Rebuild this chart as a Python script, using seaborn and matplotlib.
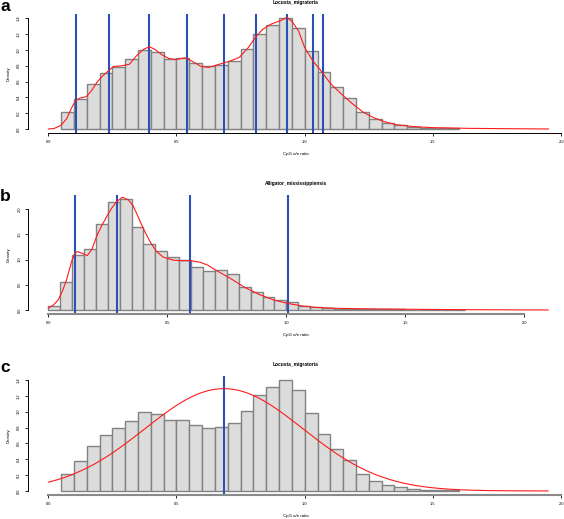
import numpy as np
import pandas as pd
import matplotlib
matplotlib.use("Agg")
import matplotlib.pyplot as plt
import seaborn as sns

# ---------------- data ----------------
bin_width = 0.05

locusta_title = "Locusta_migratoria"
locusta_bin_start = 0.05
locusta_density = [0.22, 0.375, 0.565, 0.705, 0.79, 0.88, 0.995, 0.97, 0.89, 0.895,
                   0.835, 0.80, 0.81, 0.855, 1.015, 1.205, 1.315, 1.40, 1.275, 0.985,
                   0.715, 0.525, 0.395, 0.22, 0.13, 0.076, 0.046, 0.027, 0.017, 0.010,
                   0.006]

alligator_title = "Alligator_mississippiensis"
alligator_bin_start = 0.0
alligator_density = [0.08, 0.55, 1.10, 1.22, 1.70, 2.14, 2.20, 1.64, 1.32, 1.17,
                     1.05, 0.99, 0.86, 0.77, 0.79, 0.71, 0.45, 0.35, 0.25, 0.19,
                     0.15, 0.08, 0.06, 0.035, 0.025, 0.02, 0.02, 0.015, 0.012, 0.010,
                     0.008, 0.006, 0.005, 0.004, 0.003]

# kernel density curves (red), read point by point
locusta_kde_x = [0.0, 0.022, 0.05, 0.072, 0.093, 0.107, 0.123, 0.149, 0.17, 0.19,
                 0.212, 0.233, 0.254, 0.289, 0.317, 0.345, 0.373, 0.394, 0.415, 0.443,
                 0.471, 0.499, 0.534, 0.562, 0.597, 0.626, 0.668, 0.71, 0.745, 0.78,
                 0.808, 0.836, 0.871, 0.906, 0.93, 0.948, 0.976, 1.0, 1.032, 1.06,
                 1.102, 1.144, 1.186, 1.229, 1.271, 1.313, 1.355, 1.425, 1.495, 1.635,
                 1.776, 1.951]
locusta_kde_y = [0.0, 0.005, 0.046, 0.13, 0.28, 0.36, 0.39, 0.41, 0.49, 0.59,
                 0.67, 0.73, 0.79, 0.80, 0.82, 0.93, 1.01, 1.04, 1.01, 0.94,
                 0.89, 0.88, 0.90, 0.855, 0.79, 0.78, 0.82, 0.86, 0.905, 1.03,
                 1.16, 1.26, 1.33, 1.37, 1.41, 1.37, 1.24, 1.03, 0.86, 0.75,
                 0.57, 0.44, 0.32, 0.21, 0.14, 0.09, 0.055, 0.03, 0.017, 0.008,
                 0.004, 0.0]

alligator_kde_x = [0.0, 0.02, 0.042, 0.06, 0.077, 0.098, 0.112, 0.123, 0.14, 0.164,
                   0.183, 0.203, 0.225, 0.245, 0.266, 0.287, 0.311, 0.336, 0.355, 0.371,
                   0.399, 0.427, 0.455, 0.483, 0.525, 0.56, 0.595, 0.637, 0.67, 0.704,
                   0.764, 0.825, 0.885, 0.946, 1.006, 1.066, 1.127, 1.233, 1.38, 1.61,
                   1.85, 2.1]
alligator_kde_y = [0.04, 0.09, 0.2, 0.38, 0.6, 0.96, 1.13, 1.16, 1.13, 1.08,
                   1.2, 1.46, 1.68, 1.85, 2.02, 2.15, 2.24, 2.19, 2.08, 1.92,
                   1.62, 1.36, 1.16, 1.05, 0.99, 0.98, 0.98, 0.95, 0.89, 0.79,
                   0.63, 0.45, 0.31, 0.20, 0.13, 0.08, 0.05, 0.03, 0.02, 0.01,
                   0.004, 0.0]

# vertical cut-off lines (blue)
locusta_cutoffs = [0.107, 0.236, 0.391, 0.540, 0.684, 0.809, 0.930, 1.032, 1.070]
alligator_cutoffs = [0.112, 0.290, 0.594, 1.006]
normal_cutoff = [0.685]

# fitted normal distribution (panel c)
normal_mean = 0.685
normal_sd = 0.309
normal_range = (0.0, 1.95)

x_ticks = [0.0, 0.5, 1.0, 1.5, 2.0]
y_ticks_locusta = [0.0, 0.2, 0.4, 0.6, 0.8, 1.0, 1.2, 1.4]
y_ticks_alligator = [0.0, 0.5, 1.0, 1.5, 2.0]
x_label = "CpG o/e ratio"
y_label = "Density"

# ---------------- style ----------------
sns.set_style("white")
plt.rcParams["font.family"] = ["Liberation Sans", "DejaVu Sans"]
plt.rcParams["text.color"] = "black"

W, H = 564, 519
fig = plt.figure(figsize=(W / 100, H / 100), dpi=100)

BAR_FACE = "#dcdcdc"
BAR_EDGE = "#828282"
RED = "#ff1a1a"
BLUE = "#2a52b4"


def make_axes(l, t, r, b):
    return fig.add_axes([l / W, 1 - b / H, (r - l) / W, (b - t) / H])


def draw_panel(ax, title, bin_start, heights, xlim, ylim, yticks,
               curve_x, curve_y, cutoffs, spine_color, spine_lw, top_px):
    n = len(heights)
    edges = [round(bin_start + bin_width * i, 4) for i in range(n + 1)]
    centers = [(edges[i] + edges[i + 1]) / 2 for i in range(n)]
    df = pd.DataFrame({"x": centers, "w": heights})
    sns.histplot(data=df, x="x", weights="w", bins=edges, stat="count",
                 color=BAR_FACE, edgecolor=BAR_EDGE, linewidth=1.0, alpha=1.0,
                 ax=ax, zorder=1)
    for c in cutoffs:
        ax.axvline(c, color=BLUE, lw=1.5, zorder=2)
    sns.lineplot(x=list(curve_x), y=list(curve_y), color=RED, lw=0.8, ax=ax,
                 zorder=3, sort=False, estimator=None)
    ax.set_xlim(*xlim)
    ax.set_ylim(*ylim)
    ax.set_xlabel("")
    ax.set_ylabel("")
    ax.set_xticks(x_ticks)
    ax.set_xticklabels([f"{v:.1f}" for v in x_ticks])
    ax.set_yticks(yticks)
    ax.set_yticklabels([f"{v:.1f}" for v in yticks], rotation=90, va="center")
    ax.tick_params(axis="both", direction="out", length=2.5, width=0.6,
                   labelsize=2.9, pad=2.2, color="black", labelcolor="black",
                   left=True, bottom=True)
    for s in ["top", "right"]:
        ax.spines[s].set_visible(False)
    ax.spines["left"].set_bounds(yticks[0], yticks[-1])
    ax.spines["left"].set_color("black")
    ax.spines["left"].set_linewidth(0.7)
    ax.spines["bottom"].set_bounds(x_ticks[0], x_ticks[-1])
    ax.spines["bottom"].set_color(spine_color)
    ax.spines["bottom"].set_linewidth(spine_lw)
    ax.grid(False)
    hpx = ax.get_position().height * H
    ax.text(0.5, 1 + 11.0 / hpx, title, transform=ax.transAxes, ha="center",
            va="center", fontsize=3.5, fontweight="bold", color="black")
    ax.text(0.5, -20.6 / hpx, x_label, transform=ax.transAxes, ha="center",
            va="center", fontsize=3.2, color="black")
    fig.text(8.3 / W, 1 - (top_px + hpx / 2) / H, y_label, rotation=90,
             ha="center", va="center", fontsize=3.2, color="black")


# panel a
ax_a = make_axes(27.7, 13.9, 564, 133.4)
draw_panel(ax_a, locusta_title, locusta_bin_start, locusta_density,
           (-0.080, 2.011), (-0.056, 1.456), y_ticks_locusta,
           locusta_kde_x, locusta_kde_y, locusta_cutoffs, "black", 0.7, 13.9)

# panel b
ax_b = make_axes(28.0, 194.8, 564, 314.4)
draw_panel(ax_b, alligator_title, alligator_bin_start, alligator_density,
           (-0.085, 2.166), (-0.088, 2.288), y_ticks_alligator,
           alligator_kde_x, alligator_kde_y, alligator_cutoffs, "#8a8a8a", 1.5, 194.8)

# panel c
nx = np.linspace(normal_range[0], normal_range[1], 300)
ny = np.exp(-0.5 * ((nx - normal_mean) / normal_sd) ** 2) / (normal_sd * np.sqrt(2 * np.pi))
ax_c = make_axes(27.7, 375.6, 564, 495.4)
draw_panel(ax_c, locusta_title, locusta_bin_start, locusta_density,
           (-0.080, 2.011), (-0.056, 1.456), y_ticks_locusta,
           nx, ny, normal_cutoff, "#8a8a8a", 1.5, 375.6)

# panel letters
for letter, base in [("a", 11.0), ("b", 200.7), ("c", 371.7)]:
    fig.text(0.3 / W, 1 - base / H, letter, ha="left", va="baseline",
             fontsize=12.5, fontweight="bold", color="black")

fig.savefig("out.png", dpi=100)
